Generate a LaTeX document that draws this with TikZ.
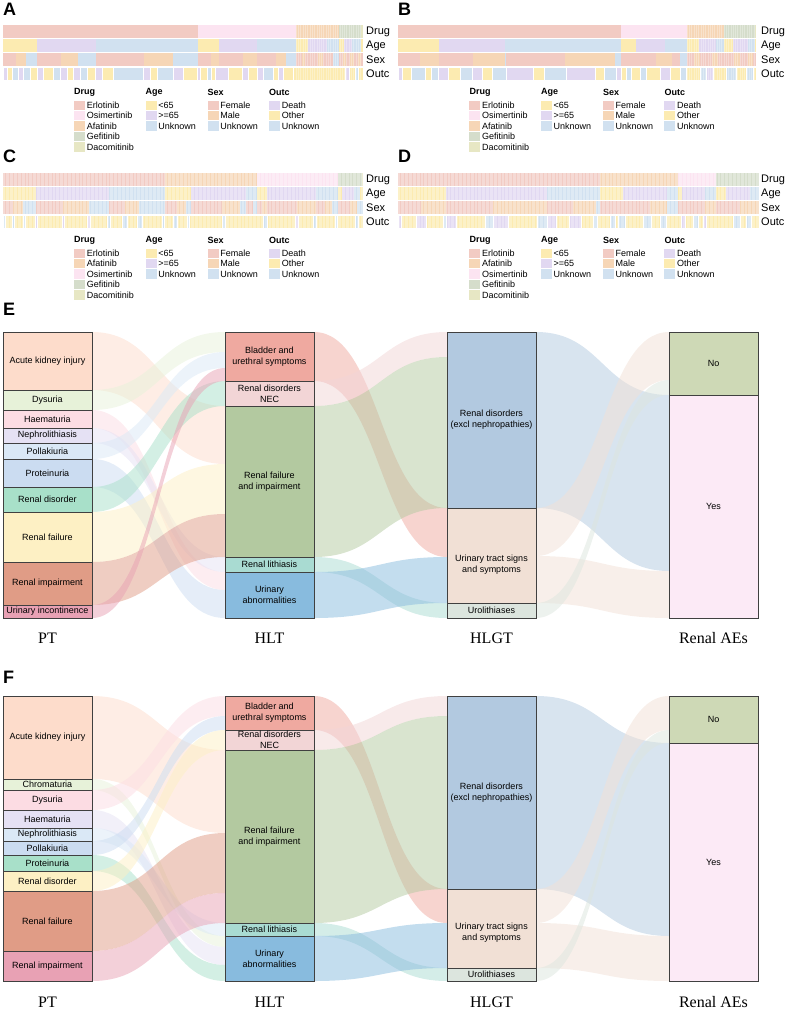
\documentclass[tikz,border=0pt]{standalone}
\usepackage{fontspec}
\setmainfont{Liberation Sans}
\newfontfamily\axisfont{Liberation Serif}
\usetikzlibrary{calc}
\usetikzlibrary{backgrounds}

% heatmap colours
\definecolor{erl}{HTML}{F2CBC3}
\definecolor{osi}{HTML}{FCE4F1}
\definecolor{afa}{HTML}{F6D6B6}
\definecolor{gef}{HTML}{D5DDCB}
\definecolor{dac}{HTML}{E7E7C4}
\definecolor{young}{HTML}{FCEBB1}
\definecolor{old}{HTML}{E1D8F1}
\definecolor{unk}{HTML}{D1E1F0}
% sankey colours
\definecolor{ptaki}{HTML}{FDDCCB}
\definecolor{ptgrn}{HTML}{E7F2D9}
\definecolor{ptpnk}{HTML}{FCDCE3}
\definecolor{ptlav}{HTML}{E5E1F4}
\definecolor{ptsky}{HTML}{DAE8F6}
\definecolor{ptblu}{HTML}{CBDCF1}
\definecolor{ptmnt}{HTML}{A8E0C9}
\definecolor{ptyel}{HTML}{FDF0C4}
\definecolor{ptsal}{HTML}{E09C86}
\definecolor{ptros}{HTML}{E8A1B4}
\definecolor{hlbla}{HTML}{EFA9A0}
\definecolor{hlnec}{HTML}{F2D5D6}
\definecolor{hlrfi}{HTML}{B3C9A0}
\definecolor{hllit}{HTML}{A9DBD2}
\definecolor{hluab}{HTML}{88BBDE}
\definecolor{hgrde}{HTML}{B2C9E0}
\definecolor{hguts}{HTML}{F1E0D5}
\definecolor{hguro}{HTML}{DCE5DE}
\definecolor{aeno}{HTML}{CED9B6}
\definecolor{aeyes}{HTML}{FCEAF6}

\newcommand{\hmrow}[2]{\foreach \a/\b/\c in {#2}{\fill[\c] (\a,#1) rectangle (\b,#1+13);}}
\newcommand{\hmcells}[2]{\foreach \a/\b/\c in {#2}{\filldraw[fill=\c,draw=white,line width=0.25pt] (\a,#1) rectangle (\b,#1+13);}}
\newcommand{\hmgrid}[5]{\foreach \s in {#1,#2,...,#3}{\draw[white,opacity=0.3,line width=0.25pt] (\s,#4) -- (\s,#5);}}

\newcommand{\hmlegend}[4]{%
  \node[lghead] (#1-drug) at (#2,#3) {Drug};
  \node[lghead] (#1-age) at (#2+71.5,#3) {Age};
  \node[lghead] (#1-sex) at (#2+133.5,#3) {Sex};
  \node[lghead] (#1-outc) at (#2+195,#3) {Outc};
  \foreach \t/\c [count=\i] in {#4}{
    \fill[\c] (#2,#3+8.6+10.4*\i-10.4) rectangle ++(11,9.4);
    \node[lgitem] (#1-drug-\i) at (#2+12.7,#3+13.3+10.4*\i-10.4) {\t};}
  \foreach \t/\c [count=\i] in {<65/young,>=65/old,Unknown/unk}{
    \fill[\c] (#2+71.5,#3+8.6+10.4*\i-10.4) rectangle ++(11,9.4);
    \node[lgitem] (#1-age-\i) at (#2+84.2,#3+13.3+10.4*\i-10.4) {\t};}
  \foreach \t/\c [count=\i] in {Female/erl,Male/afa,Unknown/unk}{
    \fill[\c] (#2+133.5,#3+8.6+10.4*\i-10.4) rectangle ++(11,9.4);
    \node[lgitem] (#1-sex-\i) at (#2+146.2,#3+13.3+10.4*\i-10.4) {\t};}
  \foreach \t/\c [count=\i] in {Death/old,Other/young,Unknown/unk}{
    \fill[\c] (#2+195,#3+8.6+10.4*\i-10.4) rectangle ++(11,9.4);
    \node[lgitem] (#1-outc-\i) at (#2+207.7,#3+13.3+10.4*\i-10.4) {\t};}
}

\newcommand{\flowband}[6]{% from, offset, to, offset, thickness, colour
  \fill[#6, opacity=0.5] let \p1=($(#1.north east)+(0,#2)$), \p2=($(#3.north west)+(0,#4)$) in
    (\p1) .. controls ({0.5*\x1+0.5*\x2},\y1) and ({0.5*\x1+0.5*\x2},\y2) .. (\p2)
    -- (\x2,{\y2-#5pt}) .. controls ({0.5*\x1+0.5*\x2},{\y2-#5pt}) and ({0.5*\x1+0.5*\x2},{\y1-#5pt}) .. (\x1,{\y1-#5pt}) -- cycle;}

\begin{document}
\begin{tikzpicture}
     [
     x=1pt, y=-1pt,
     sbox/.style = {draw=black!75, line width=0.7pt, minimum width=89pt, inner sep=0pt, outer sep=0pt,
       anchor=north west, align=center, font=\fontsize{9}{10.7}\selectfont},
     stext/.style = {align=center, inner sep=0pt, font=\fontsize{9}{10.7}\selectfont},
     rowlab/.style = {anchor=west, inner sep=0pt, font=\fontsize{11}{13}\selectfont},
     lghead/.style = {anchor=west, inner sep=0pt, font=\fontsize{9}{10}\selectfont\bfseries},
     lgitem/.style = {anchor=west, inner sep=0pt, font=\fontsize{9}{10}\selectfont},
     letter/.style = {anchor=west, inner sep=0pt, font=\fontsize{18}{20}\selectfont\bfseries},
     axislab/.style = {inner sep=0pt, font=\axisfont\fontsize{16}{18}\selectfont}
     ]
     \useasboundingbox (0,0) rectangle (786,1009);

     % panel letters
     \node[letter] (la) at (3,9.5) {A};
     \node[letter] (lb) at (398,9.5) {B};
     \node[letter] (lc) at (3,156) {C};
     \node[letter] (ld) at (398,156) {D};
     \node[letter] (le) at (3,309.5) {E};
     \node[letter] (lf) at (3,677) {F};

     % A
     \hmrow{25}{3/198/erl,198/296/osi,296/339/afa,339/361/gef,361/363/dac}
     \hmrow{39}{3/37/young,37/96/old,96/198/unk,198/219/young,219/257/old,257/296/unk,296/308/young,308/327/old,327/339/unk,339/344/young,344/352/old,352/361/unk,361/363/young}
     \hmrow{53}{3/16/erl,16/26/afa,26/37/unk,37/61/erl,61/78/afa,78/96/unk,96/144/erl,144/173/afa,173/198/unk,198/211/erl,211/219/afa,219/243/erl,243/257/afa,257/276/erl,276/286/afa,286/296/unk,296/302/erl,302/305/afa,305/318/erl,318/323/afa,323/333/erl,333/339/unk,339/343/erl,343/346/afa,346/350/erl,350/354/afa,354/358/erl,358/361/afa,361/363/erl}
     \hmcells{67}{3/7/old,7/12/young,12/18/unk,18/23/old,23/30/unk,30/37/young,37/43/old,43/53/young,53/60/unk,60/67/old,67/73/young,73/80/old,80/87/unk,87/95/young,95/102/old,102/113/young,113/143/unk,143/150/old,150/157/young,157/173/unk,173/183/old,183/197/young,197/200/old,200/207/young,207/211/unk,211/215/young,215/228/old,228/242/young,242/248/old,248/257/young,257/263/old,263/273/unk,273/278/young,278/283/old,283/293/young,293/345/young,345/349/old,349/355/young,355/358/unk,358/363/young}
     \hmgrid{296}{298.3}{363}{25}{80}
     \node[rowlab] (a-l1) at (366,31.5) {Drug};
     \node[rowlab] (a-l2) at (366,45.5) {Age};
     \node[rowlab] (a-l3) at (366,59.5) {Sex};
     \node[rowlab] (a-l4) at (366,73.5) {Outc};
     \hmlegend{a}{74}{92}{Erlotinib/erl,Osimertinib/osi,Afatinib/afa,Gefitinib/gef,Dacomitinib/dac}

     % B
     \hmrow{25}{398/621/erl,621/687/osi,687/724/afa,724/755/gef,755/756/dac}
     \hmrow{39}{398/439/young,439/505/old,505/621/unk,621/636/young,636/665/old,665/687/unk,687/699/young,699/716/old,716/724/unk,724/733/young,733/748/old,748/755/unk,755/756/young}
     \hmrow{53}{398/420/erl,420/439/afa,439/473/erl,473/505/afa,505/506/unk,506/565/erl,565/615/afa,615/621/unk,621/656/erl,656/672/afa,672/680/erl,680/687/unk,687/694/erl,694/700/afa,700/712/erl,712/718/afa,718/734/erl,734/740/afa,740/748/erl,748/753/afa,753/756/erl}
     \hmcells{67}{398/402/old,402/411/young,411/425/unk,425/431/young,431/438/unk,438/448/old,448/460/young,460/472/unk,472/482/old,482/492/young,492/506/unk,506/533/old,533/544/young,544/566/unk,566/595/old,595/604/young,604/616/unk,616/621/old,621/626/young,626/631/unk,631/640/young,640/646/unk,646/660/young,660/670/old,670/680/young,680/686/unk,686/700/young,700/706/unk,706/713/old,713/726/young,726/736/unk,736/746/young,746/753/unk,753/756/young}
     \hmgrid{687}{689.3}{756}{25}{80}
     \node[rowlab] (b-l1) at (761,31.5) {Drug};
     \node[rowlab] (b-l2) at (761,45.5) {Age};
     \node[rowlab] (b-l3) at (761,59.5) {Sex};
     \node[rowlab] (b-l4) at (761,73.5) {Outc};
     \hmlegend{b}{469.3}{92}{Erlotinib/erl,Osimertinib/osi,Afatinib/afa,Gefitinib/gef,Dacomitinib/dac}

     % C
     \hmrow{173}{3/165/erl,165/257/afa,257/338/osi,338/362/gef,362/363/dac}
     \hmrow{187}{3/36/young,36/109/old,109/165/unk,165/191/young,191/246/old,246/257/unk,257/267/young,267/316/old,316/338/unk,338/342/young,342/354/old,354/360/unk,360/363/young}
     \hmrow{201}{3/13/erl,13/23/afa,23/36/unk,36/63/erl,63/89/afa,89/109/unk,109/125/erl,125/139/afa,139/165/unk,165/177/erl,177/186/afa,186/191/unk,191/222/erl,222/240/afa,240/246/unk,246/253/erl,253/257/unk,257/262/erl,262/267/afa,267/297/erl,297/316/afa,316/325/erl,325/332/afa,332/338/unk,338/350/erl,350/357/afa,357/363/unk}
     \hmcells{215}{3/5/unk,5/12/young,12/14/unk,14/23/young,23/25/unk,25/35/young,35/37/old,37/62/young,62/64/old,64/87/young,87/90/old,90/107/young,107/110/unk,110/122/young,122/127/unk,127/137/young,137/142/unk,142/162/young,162/164/unk,164/173/young,173/177/unk,177/187/young,187/189/unk,189/222/young,222/225/unk,225/263/young,263/267/unk,267/295/young,295/298/old,298/313/young,313/316/unk,316/335/young,335/337/unk,337/355/young,355/358/unk,358/363/young}
     \hmgrid{3}{4.35}{363}{173}{228}
     \node[rowlab] (c-l1) at (366,179.5) {Drug};
     \node[rowlab] (c-l2) at (366,193.5) {Age};
     \node[rowlab] (c-l3) at (366,207.5) {Sex};
     \node[rowlab] (c-l4) at (366,221.5) {Outc};
     \hmlegend{c}{74}{240}{Erlotinib/erl,Afatinib/afa,Osimertinib/osi,Gefitinib/gef,Dacomitinib/dac}

     % D
     \hmrow{173}{398/600/erl,600/678/afa,678/716/osi,716/759/gef}
     \hmrow{187}{398/446/young,446/547/old,547/600/unk,600/623/young,623/667/old,667/678/unk,678/682/young,682/705/old,705/716/unk,716/726/young,726/750/old,750/759/unk}
     \hmrow{201}{398/421/erl,421/446/afa,446/493/erl,493/547/afa,547/573/erl,573/596/afa,596/600/unk,600/650/erl,650/667/afa,667/678/unk,678/705/erl,705/716/afa,716/740/erl,740/759/afa}
     \hmcells{215}{398/401/old,401/416/young,416/426/old,426/443/young,443/446/unk,446/456/old,456/485/young,485/493/unk,493/508/old,508/537/young,537/547/unk,547/556/old,556/569/young,569/581/old,581/593/young,593/597/unk,597/610/young,610/615/unk,615/618/young,618/625/unk,625/643/young,643/651/unk,651/660/young,660/666/unk,666/681/young,681/685/old,685/693/young,693/698/unk,698/703/young,703/706/old,706/733/young,733/740/unk,740/746/young,746/751/unk,751/759/young}
     \hmgrid{398}{399.35}{759}{173}{228}
     \node[rowlab] (d-l1) at (761,179.5) {Drug};
     \node[rowlab] (d-l2) at (761,193.5) {Age};
     \node[rowlab] (d-l3) at (761,207.5) {Sex};
     \node[rowlab] (d-l4) at (761,221.5) {Outc};
     \hmlegend{d}{469.3}{240}{Erlotinib/erl,Afatinib/afa,Osimertinib/osi,Gefitinib/gef,Dacomitinib/dac}

     % E: sankey boxes
     \node[sbox, fill=ptaki, minimum height=58pt] (eaki) at (3,332) {Acute kidney injury};
     \node[sbox, fill=ptgrn, minimum height=20pt] (edys) at (3,390) {Dysuria};
     \node[sbox, fill=ptpnk, minimum height=18pt] (ehae) at (3,410) {Haematuria};
     \node[sbox, fill=ptlav, minimum height=15pt] (enep) at (3,428) {Nephrolithiasis};
     \node[sbox, fill=ptsky, minimum height=16pt] (epol) at (3,443) {Pollakiuria};
     \node[sbox, fill=ptblu, minimum height=28pt] (epro) at (3,459) {Proteinuria};
     \node[sbox, fill=ptmnt, minimum height=25pt] (erdi) at (3,487) {Renal disorder};
     \node[sbox, fill=ptyel, minimum height=50pt] (erfa) at (3,512) {Renal failure};
     \node[sbox, fill=ptsal, minimum height=43pt] (erim) at (3,562) {Renal impairment};
     \node[sbox, fill=ptros, minimum height=13pt] (euin) at (3,605) {Urinary incontinence};

     \node[sbox, fill=hlbla, minimum height=49pt] (ebla) at (225,332) {Bladder and\\urethral symptoms};
     \node[sbox, fill=hlnec, minimum height=25pt] (enec) at (225,381) {Renal disorders\\NEC};
     \node[sbox, fill=hlrfi, minimum height=151pt] (erfi) at (225,406) {Renal failure\\and impairment};
     \node[sbox, fill=hllit, minimum height=15pt] (elit) at (225,557) {Renal lithiasis};
     \node[sbox, fill=hluab, minimum height=46pt] (euab) at (225,572) {Urinary\\abnormalities};

     \node[sbox, fill=hgrde, minimum height=176pt] (erde) at (447,332) {Renal disorders\\(excl nephropathies)};
     \node[sbox, fill=hguts, minimum height=95pt,
       label={[stext,yshift=-9pt]center:Urinary tract signs\\and symptoms}] (euts) at (447,508) {};
     \node[sbox, fill=hguro, minimum height=15pt] (euro) at (447,603) {Urolithiases};

     \node[sbox, fill=aeno, minimum height=63pt] (eno) at (669,332) {No};
     \node[sbox, fill=aeyes, minimum height=223pt] (eyes) at (669,395) {Yes};

     \node[axislab] (ept) at (47.5,638) {PT};
     \node[axislab] (ehlt) at (269.5,638) {HLT};
     \node[axislab] (ehlgt) at (491.5,638) {HLGT};
     \node[axislab] (eae) at (713.5,638) {Renal AEs};

     % F: sankey boxes
     \node[sbox, fill=ptaki, minimum height=83pt] (faki) at (3,696) {Acute kidney injury};
     \node[sbox, fill=ptgrn, minimum height=11pt] (fchr) at (3,779) {Chromaturia};
     \node[sbox, fill=ptpnk, minimum height=20pt] (fdys) at (3,790) {Dysuria};
     \node[sbox, fill=ptlav, minimum height=18pt] (fhae) at (3,810) {Haematuria};
     \node[sbox, fill=ptsky, minimum height=13pt] (fnep) at (3,828) {Nephrolithiasis};
     \node[sbox, fill=ptblu, minimum height=14pt] (fpol) at (3,841) {Pollakiuria};
     \node[sbox, fill=ptmnt, minimum height=16pt] (fpro) at (3,855) {Proteinuria};
     \node[sbox, fill=ptyel, minimum height=20pt] (frdi) at (3,871) {Renal disorder};
     \node[sbox, fill=ptsal, minimum height=60pt] (frfa) at (3,891) {Renal failure};
     \node[sbox, fill=ptros, minimum height=30pt] (frim) at (3,951) {Renal impairment};

     \node[sbox, fill=hlbla, minimum height=34pt] (fbla) at (225,696) {Bladder and\\urethral symptoms};
     \node[sbox, fill=hlnec, minimum height=20pt] (fnec) at (225,730) {Renal disorders\\NEC};
     \node[sbox, fill=hlrfi, minimum height=173pt] (frfi) at (225,750) {Renal failure\\and impairment};
     \node[sbox, fill=hllit, minimum height=13pt] (flit) at (225,923) {Renal lithiasis};
     \node[sbox, fill=hluab, minimum height=45pt] (fuab) at (225,936) {Urinary\\abnormalities};

     \node[sbox, fill=hgrde, minimum height=193pt] (frde) at (447,696) {Renal disorders\\(excl nephropathies)};
     \node[sbox, fill=hguts, minimum height=79pt,
       label={[stext,yshift=-4.5pt]center:Urinary tract signs\\and symptoms}] (futs) at (447,889) {};
     \node[sbox, fill=hguro, minimum height=13pt] (furo) at (447,968) {Urolithiases};

     \node[sbox, fill=aeno, minimum height=47pt] (fno) at (669,696) {No};
     \node[sbox, fill=aeyes, minimum height=238pt] (fyes) at (669,743) {Yes};

     \node[axislab] (fpt) at (47.5,1002) {PT};
     \node[axislab] (fhlt) at (269.5,1002) {HLT};
     \node[axislab] (fhlgt) at (491.5,1002) {HLGT};
     \node[axislab] (fae) at (713.5,1002) {Renal AEs};

     \begin{pgfonlayer}{background}
     % E flows
     \flowband{eaki}{0}{erfi}{0}{58}{ptaki}
     \flowband{edys}{0}{ebla}{0}{20}{ptgrn}
     \flowband{ehae}{0}{euab}{0}{18}{ptpnk}
     \flowband{enep}{0}{elit}{0}{15}{ptlav}
     \flowband{epol}{0}{ebla}{20}{16}{ptsky}
     \flowband{epro}{0}{euab}{18}{28}{ptblu}
     \flowband{erdi}{0}{enec}{0}{25}{ptmnt}
     \flowband{erfa}{0}{erfi}{58}{50}{ptyel}
     \flowband{erim}{0}{erfi}{108}{43}{ptsal}
     \flowband{euin}{0}{ebla}{36}{13}{ptros}
     \flowband{ebla}{0}{euts}{0}{49}{hlbla}
     \flowband{enec}{0}{erde}{0}{25}{hlnec}
     \flowband{erfi}{0}{erde}{25}{151}{hlrfi}
     \flowband{elit}{0}{euro}{0}{15}{hllit}
     \flowband{euab}{0}{euts}{49}{46}{hluab}
     \flowband{erde}{0}{eyes}{0}{176}{hgrde}
     \flowband{euts}{0}{eno}{0}{48}{hguts}
     \flowband{euts}{48}{eyes}{176}{47}{hguts}
     \flowband{euro}{0}{eno}{48}{15}{hguro}
     % F flows
     \flowband{faki}{0}{frfi}{0}{83}{ptaki}
     \flowband{fchr}{0}{fuab}{0}{11}{ptgrn}
     \flowband{fdys}{0}{fbla}{0}{20}{ptpnk}
     \flowband{fhae}{0}{fuab}{11}{18}{ptlav}
     \flowband{fnep}{0}{flit}{0}{13}{ptsky}
     \flowband{fpol}{0}{fbla}{20}{14}{ptblu}
     \flowband{fpro}{0}{fuab}{29}{16}{ptmnt}
     \flowband{frdi}{0}{fnec}{0}{20}{ptyel}
     \flowband{frfa}{0}{frfi}{83}{60}{ptsal}
     \flowband{frim}{0}{frfi}{143}{30}{ptros}
     \flowband{fbla}{0}{futs}{0}{34}{hlbla}
     \flowband{fnec}{0}{frde}{0}{20}{hlnec}
     \flowband{frfi}{0}{frde}{20}{173}{hlrfi}
     \flowband{flit}{0}{furo}{0}{13}{hllit}
     \flowband{fuab}{0}{futs}{34}{45}{hluab}
     \flowband{frde}{0}{fyes}{0}{193}{hgrde}
     \flowband{futs}{0}{fno}{0}{34}{hguts}
     \flowband{futs}{34}{fyes}{193}{45}{hguts}
     \flowband{furo}{0}{fno}{34}{13}{hguro}
     \end{pgfonlayer}
  \end{tikzpicture}
\end{document}
